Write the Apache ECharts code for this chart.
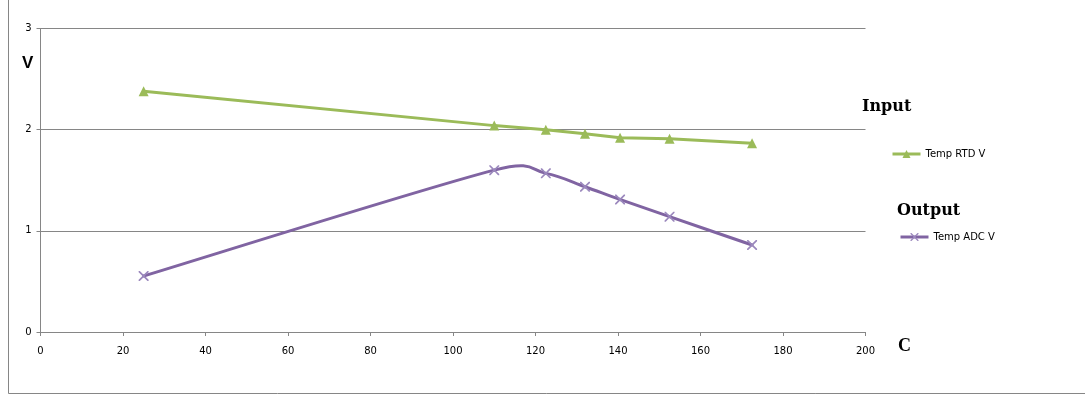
<!DOCTYPE html>
<html><head><meta charset="utf-8">
<script src="https://cdn.jsdelivr.net/npm/echarts@6/dist/echarts.min.js"></script>
<style>html,body{margin:0;padding:0;background:#fff}#c{width:1085px;height:400px}</style>
</head><body><div id="c"></div>
<script>
const tempC = [25, 110, 122.5, 132, 140.5, 152.5, 172.5];
const rtdV = [2.38, 2.04, 2.0, 1.96, 1.92, 1.91, 1.865];
const adcV = [0.553, 1.60, 1.568, 1.436, 1.31, 1.14, 0.86];
const seriesNames = ['Temp RTD V', 'Temp ADC V'];

const xMark = 'path://M0,0L1.2,0L5,3.8L8.8,0L10,0L10,1.2L6.2,5L10,8.8L10,10L8.8,10L5,6.2L1.2,10L0,10L0,8.8L3.8,5L0,1.2Z';
const purple = '#8064a2', green = '#9bbb59';

// Excel-like smoothed segment drawn through the axis scales (api.coord)
function smoothSegment(params, api) {
  const i = params.dataIndex, n = tempC.length;
  const P = k => api.coord([tempC[Math.max(0, Math.min(n - 1, k))], adcV[Math.max(0, Math.min(n - 1, k))]]);
  const p0 = P(i - 1), p1 = P(i), p2 = P(i + 1), p3 = P(i + 2);
  const d = (a, b) => Math.hypot(b[0] - a[0], b[1] - a[1]);
  const seg = d(p1, p2), K = 0.8;
  function cp(from, prev, next, sign) {
    const L = d(prev, next);
    if (L === 0) return from.slice();
    const dist = Math.min(L / 6, seg * K);
    return [from[0] + sign * (next[0] - prev[0]) / L * dist, from[1] + sign * (next[1] - prev[1]) / L * dist];
  }
  const c1 = cp(p1, p0, p2, 1), c2 = cp(p2, p1, p3, -1);
  return {
    type: 'bezierCurve',
    shape: {x1: p1[0], y1: p1[1], x2: p2[0], y2: p2[1], cpx1: c1[0], cpy1: c1[1], cpx2: c2[0], cpy2: c2[1]},
    style: {stroke: purple, lineWidth: 3, fill: null, lineCap: 'round'}
  };
}

const chart = echarts.init(document.getElementById('c'));
const axisFont = {fontFamily: 'DejaVu Sans', fontSize: 10, color: '#000'};
const legendText = {fontFamily: 'DejaVu Sans', fontSize: 10, color: '#000'};
chart.setOption({
  animation: false,
  grid: {left: 40.5, right: 219.5, top: 28.5, bottom: 68, containLabel: false},
  xAxis: {
    type: 'value', min: 0, max: 200, interval: 20,
    axisLine: {show: true, lineStyle: {color: '#868686', width: 1}},
    axisTick: {show: true, length: 4, lineStyle: {color: '#868686'}},
    axisLabel: Object.assign({margin: 14}, axisFont),
    splitLine: {show: false}
  },
  yAxis: {
    type: 'value', min: 0, max: 3, interval: 1,
    axisLine: {show: true, lineStyle: {color: '#868686', width: 1}},
    axisTick: {show: true, length: 4, lineStyle: {color: '#868686'}},
    axisLabel: Object.assign({margin: 9}, axisFont),
    splitLine: {show: true, lineStyle: {color: '#868686', width: 1}}
  },
  legend: [
    {data: [{name: seriesNames[0], lineStyle: {width: 3, color: green}}],
     left: 886, top: 144, itemWidth: 28, itemHeight: 10, itemGap: 2, textStyle: legendText},
    {data: [{name: seriesNames[1], lineStyle: {width: 3, color: purple, opacity: 1}}],
     left: 894, top: 227, itemWidth: 28, itemHeight: 10, itemGap: 2, textStyle: legendText}
  ],
  title: [
    {text: 'Input', left: 862, top: 99, padding: 0,
     textStyle: {fontFamily: 'DejaVu Serif', fontWeight: 'bold', fontSize: 16, color: '#000'}},
    {text: 'Output', left: 897, top: 203, padding: 0,
     textStyle: {fontFamily: 'DejaVu Serif', fontWeight: 'bold', fontSize: 16, color: '#000'}},
    {text: 'V', left: 22, top: 55, padding: 0,
     textStyle: {fontFamily: 'Liberation Sans', fontWeight: 'bold', fontSize: 17, color: '#000'}},
    {text: 'C', left: 898, top: 337, padding: 0,
     textStyle: {fontFamily: 'Liberation Serif', fontWeight: 'bold', fontSize: 18, color: '#000'}}
  ],
  graphic: [
    {type: 'polyline', silent: true, shape: {points: [[8.5, 0], [8.5, 393.5], [1085, 393.5]]},
     style: {stroke: '#868686', lineWidth: 1, fill: null}}
  ],
  series: [
    {name: seriesNames[0], type: 'line', data: tempC.map((x, i) => [x, rtdV[i]]),
     symbol: 'triangle', symbolSize: 10, showAllSymbol: true, z: 3,
     lineStyle: {color: green, width: 3}, itemStyle: {color: green}},
    {name: 'adcCurve', type: 'custom', silent: true, z: 2,
     data: tempC.slice(0, -1).map((x, i) => [x, adcV[i]]),
     renderItem: smoothSegment},
    {name: seriesNames[1], type: 'line', data: tempC.map((x, i) => [x, adcV[i]]),
     symbol: xMark, symbolSize: 10, showAllSymbol: true, z: 3,
     lineStyle: {color: purple, width: 0, opacity: 0}, itemStyle: {color: '#9b88bd'}}
  ]
});
</script></body></html>
